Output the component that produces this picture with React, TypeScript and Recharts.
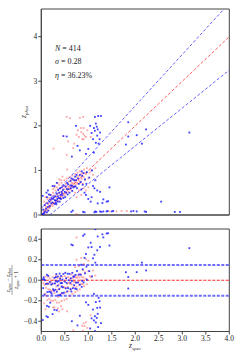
import React from "react";
import { ScatterChart, Scatter, XAxis, YAxis, ReferenceLine, ReferenceArea, Label } from "recharts";

// [z_spec, z_phot]
const bluePairs: [number, number][] = [
  [0.03, 0.43], [0.04, 0.12], [0.06, 0.05], [0.07, 0.22], [0.08, 0.08], [0.1, 0.14], [0.11, 0.5], [0.12, 0.06],
  [0.13, 0.26], [0.14, 0.18], [0.15, 0.1], [0.16, 0.46], [0.17, 0.3], [0.18, 0.2], [0.2, 0.34], [0.21, 0.26],
  [0.22, 0.38], [0.24, 0.28], [0.24, 0.65], [0.25, 0.36], [0.27, 0.4], [0.28, 0.25], [0.3, 0.42], [0.31, 0.32],
  [0.32, 0.24], [0.33, 0.48], [0.34, 0.36], [0.35, 0.3], [0.36, 0.56], [0.37, 0.38], [0.38, 0.5], [0.39, 0.3],
  [0.4, 0.6], [0.41, 0.45], [0.42, 0.36], [0.43, 0.52], [0.44, 0.62], [0.45, 0.44], [0.46, 0.56], [0.47, 0.38],
  [0.48, 0.66], [0.5, 0.52], [0.51, 0.4], [0.52, 0.64], [0.53, 0.5], [0.55, 0.72], [0.56, 0.46], [0.57, 0.69],
  [0.58, 0.58], [0.6, 0.5], [0.62, 0.76], [0.63, 0.6], [0.64, 0.82], [0.65, 0.66], [0.66, 0.54], [0.67, 0.8],
  [0.68, 0.62], [0.7, 0.78], [0.72, 0.86], [0.73, 0.64], [0.75, 0.9], [0.76, 0.6], [0.78, 0.82], [0.8, 0.7],
  [0.82, 0.9], [0.84, 0.74], [0.85, 0.57], [0.87, 0.88], [0.88, 0.68], [0.9, 0.94], [0.92, 0.5], [0.93, 0.8],
  [0.95, 0.45], [0.97, 0.96], [1.0, 0.36], [1.02, 0.84], [1.05, 0.3], [1.08, 1.0], [1.1, 0.65], [1.13, 0.6],
  [1.15, 0.78], [1.19, 0.55], [1.2, 0.26], [1.25, 0.52], [1.3, 0.27], [1.32, 0.35], [1.39, 0.3], [1.42, 0.31],
  [1.45, 0.62], [1.07, 0.4], [0.14, 0.55], [0.28, 0.65], [0.33, 0.72], [0.12, 0.4], [0.19, 0.45], [0.03, 0.02],
  [0.05, 0.02], [0.29, 0.33], [0.31, 0.27], [0.35, 0.42], [0.4, 0.38], [0.44, 0.48], [0.62, 0.66], [0.7, 0.64],
  [0.74, 0.78], [0.86, 0.98], [0.96, 0.7], [0.54, 0.58],
  [0.64, 0.07], [0.67, 0.1], [0.89, 0.07], [0.92, 0.06], [1.13, 0.06], [1.15, 0.08], [1.17, 0.07], [1.25, 0.08],
  [1.28, 0.07], [1.32, 0.08], [1.39, 0.08], [1.41, 0.09], [1.5, 0.08], [1.53, 0.09], [1.91, 0.08], [1.96, 0.09],
  [2.03, 0.08], [2.2, 0.08], [2.23, 0.07], [2.84, 0.07], [2.95, 0.07], [2.55, 0.3],
  [0.47, 1.77], [0.54, 1.76], [0.74, 2.0], [0.77, 1.55], [0.82, 1.45], [0.65, 1.31], [1.14, 2.2], [1.21, 2.22],
  [1.27, 2.22], [1.18, 1.98], [1.04, 2.0], [1.14, 1.89], [1.07, 1.84], [1.25, 1.85], [1.19, 1.78], [1.1, 1.7],
  [1.22, 1.6], [1.0, 1.48], [1.12, 1.95], [1.16, 2.05], [1.2, 1.92], [1.24, 1.7], [1.16, 1.62], [1.12, 1.4],
  [0.95, 1.37],
  [1.85, 2.08], [2.23, 1.92], [2.03, 1.79], [1.85, 1.76], [1.8, 1.58], [2.14, 1.6], [3.15, 1.85],
];

const redPairs: [number, number][] = [
  [0.05, 0.08], [0.07, 0.12], [0.08, 0.22], [0.09, 0.05], [0.1, 0.18], [0.11, 0.28], [0.12, 0.15], [0.13, 0.35],
  [0.14, 0.1], [0.15, 0.25], [0.16, 0.2], [0.17, 0.38], [0.18, 0.16], [0.19, 0.3], [0.2, 0.22], [0.21, 0.45],
  [0.22, 0.35], [0.23, 0.28], [0.24, 0.2], [0.25, 0.5], [0.26, 0.38], [0.27, 0.27], [0.28, 0.44], [0.29, 0.33],
  [0.3, 0.55], [0.31, 0.25], [0.32, 0.4], [0.33, 0.62], [0.34, 0.47], [0.35, 0.32], [0.36, 0.58], [0.37, 0.43],
  [0.38, 0.68], [0.39, 0.5], [0.4, 0.36], [0.41, 0.6], [0.42, 0.45], [0.43, 0.72], [0.44, 0.52], [0.45, 0.4],
  [0.46, 0.65], [0.47, 0.48], [0.48, 0.58], [0.49, 0.78], [0.5, 0.44], [0.51, 0.62], [0.52, 0.7], [0.53, 0.5],
  [0.54, 0.82], [0.55, 0.6], [0.56, 0.66], [0.57, 0.52], [0.58, 0.75], [0.59, 0.63], [0.6, 0.85], [0.61, 0.58],
  [0.62, 0.68], [0.63, 0.78], [0.64, 0.55], [0.65, 0.72], [0.66, 0.88], [0.67, 0.64], [0.68, 0.7], [0.69, 0.8],
  [0.7, 0.62], [0.71, 0.74], [0.72, 0.92], [0.73, 0.68], [0.74, 0.78], [0.75, 0.86], [0.76, 0.72], [0.77, 0.95],
  [0.78, 0.7], [0.79, 0.82], [0.8, 0.88], [0.81, 0.76], [0.82, 0.98], [0.83, 0.72], [0.84, 0.84], [0.85, 0.92],
  [0.86, 0.8], [0.88, 0.95], [0.89, 0.7], [0.9, 0.85], [0.91, 1.02], [0.93, 0.78], [0.95, 0.92], [0.97, 1.05],
  [1.0, 0.82], [1.03, 0.95], [1.06, 1.0], [1.1, 0.9], [1.15, 1.05], [0.06, 0.3], [0.09, 0.4],
  [0.28, 0.62], [0.35, 0.72], [0.42, 0.78], [0.25, 0.58], [0.45, 0.86], [0.38, 0.8], [0.55, 1.02],
  [0.75, 0.4], [0.85, 0.45], [0.9, 0.6], [0.95, 0.55], [0.72, 0.5], [1.0, 0.62], [0.8, 0.55], [0.75, 0.02],
  [1.45, 0.08], [1.71, 0.09], [1.82, 0.09], [1.6, 0.08],
  [0.54, 2.2], [0.61, 2.17], [0.82, 2.18], [0.89, 2.2], [0.78, 1.9], [0.85, 1.86], [0.89, 1.82], [0.92, 1.78],
  [0.8, 1.75], [0.87, 1.7], [0.95, 1.75], [0.75, 1.8], [0.84, 1.95], [0.9, 1.95], [0.26, 1.49], [0.57, 1.65],
  [0.54, 1.35], [0.9, 1.7], [0.7, 1.6], [0.98, 1.9], [1.05, 1.75], [0.68, 1.5],
];

const xTicks = [0, 0.5, 1, 1.5, 2, 2.5, 3, 3.5, 4];
const topYTicks = [0, 1, 2, 3, 4];
const resYTicks = [-0.4, -0.2, 0, 0.2, 0.4];
const outlierFrac = 0.15;

const topBlue = bluePairs.map(([s, p]) => ({ x: s, y: p }));
const topRed = redPairs.map(([s, p]) => ({ x: s, y: p }));
const resid = (pairs: [number, number][]) =>
  pairs.map(([s, p]) => ({ x: s, y: (s - p) / (s + 1) })).filter((d) => Math.abs(d.y) <= 0.5);
const resBlue = resid(bluePairs);
const resRed = resid(redPairs);

const FONT = "'Liberation Serif', serif";
const AX = "#444";

const dot = (color: string, op: number) => (props: any) =>
  <rect x={props.cx - 0.9} y={props.cy - 0.9} width={1.8} height={1.8} fill={color} fillOpacity={op} />;

const fmt = (v: number) => v.toFixed(1).replace("-", "\u2212");

export default function App() {
  return (
    <div style={{ position: "absolute", left: 0, top: 0, width: 240, height: 360, background: "#fff", fontFamily: FONT }}>
      <ScatterChart width={240} height={222} margin={{ top: 9, right: 10.7, bottom: 0, left: 0 }}>
        <XAxis type="number" dataKey="x" domain={[0, 4]} ticks={xTicks} tick={false} tickSize={3} height={7}
          axisLine={{ stroke: AX }} tickLine={{ stroke: AX }} allowDataOverflow />
        <YAxis type="number" dataKey="y" domain={[0, 4.62]} ticks={topYTicks} tickSize={3} width={41.3} tickMargin={1}
          axisLine={{ stroke: AX }} tickLine={{ stroke: AX }} allowDataOverflow
          tick={{ fontSize: 7.5, fill: "#222", fontFamily: FONT }}>
          <Label content={() => (
            <text x={26} y={112} transform="rotate(-90 26 112)" textAnchor="middle" fontFamily={FONT} fontSize={7.5} fill="#222">
              <tspan fontStyle="italic">z</tspan>
              <tspan fontStyle="italic" fontSize={5} dy={1.5}>phot</tspan>
            </text>
          )} />
        </YAxis>
        <ReferenceArea x1={0} x2={4} y1={0} y2={4.62} fill="none" stroke={AX} strokeWidth={1} />
        <Scatter data={topRed} shape={dot("#ff2020", 0.4)} isAnimationActive={false} />
        <Scatter data={topBlue} shape={dot("#1010ff", 0.8)} isAnimationActive={false} />
        <ReferenceLine segment={[{ x: 0, y: 0 }, { x: 4, y: 4 }]} stroke="#ff3030" strokeWidth={0.8} strokeDasharray="3 2" ifOverflow="visible" />
        <ReferenceLine segment={[{ x: 0, y: outlierFrac }, { x: (4.62 - outlierFrac) / (1 + outlierFrac), y: 4.62 }]}
          stroke="#3a3aff" strokeWidth={0.8} strokeDasharray="3 2" ifOverflow="visible" />
        <ReferenceLine segment={[{ x: outlierFrac / (1 - outlierFrac), y: 0 }, { x: 4, y: 4 * (1 - outlierFrac) - outlierFrac }]}
          stroke="#3a3aff" strokeWidth={0.8} strokeDasharray="3 2" ifOverflow="visible" />
      </ScatterChart>

      <div style={{ position: "absolute", left: 55, top: 42, fontSize: 8, lineHeight: "13.3px", color: "#222" }}>
        <div><i>N</i> = 414</div>
        <div><i>σ</i> = 0.28</div>
        <div><i>η</i> = 36.23%</div>
      </div>

      <div style={{ position: "absolute", left: 0, top: 222 }}>
        <ScatterChart width={240} height={138} margin={{ top: 7, right: 10.7, bottom: 0, left: 0 }}>
          <XAxis type="number" dataKey="x" domain={[0, 4]} ticks={xTicks} tickSize={3} height={28.5} tickMargin={1}
            tickFormatter={fmt} axisLine={{ stroke: AX }} tickLine={{ stroke: AX }} allowDataOverflow
            tick={{ fontSize: 7.5, fill: "#222", fontFamily: FONT }}>
            <Label content={() => (
              <text x={135} y={126} textAnchor="middle" fontFamily={FONT} fontSize={7.5} fill="#222">
                <tspan fontStyle="italic">z</tspan>
                <tspan fontStyle="italic" fontSize={5} dy={1.5}>spec</tspan>
              </text>
            )} />
          </XAxis>
          <YAxis type="number" dataKey="y" domain={[-0.5, 0.5]} ticks={resYTicks} tickSize={3} width={41.3} tickMargin={1}
            tickFormatter={fmt} axisLine={{ stroke: AX }} tickLine={{ stroke: AX }} allowDataOverflow
            tick={{ fontSize: 7.5, fill: "#222", fontFamily: FONT }}>
            <Label content={() => (
              <g transform="translate(12 58) rotate(-90)" fontFamily={FONT} fill="#222">
                <text x={0} y={-2} textAnchor="middle" fontSize={5.5}>
                  <tspan fontStyle="italic">z</tspan><tspan fontStyle="italic" fontSize={4} dy={1}>spec</tspan>
                  <tspan dy={-1}> − </tspan>
                  <tspan fontStyle="italic">z</tspan><tspan fontStyle="italic" fontSize={4} dy={1}>phot</tspan>
                </text>
                <line x1={-15} x2={15} y1={0} y2={0} stroke="#222" strokeWidth={0.4} />
                <text x={0} y={5.5} textAnchor="middle" fontSize={5.5}>
                  <tspan fontStyle="italic">z</tspan><tspan fontStyle="italic" fontSize={4} dy={1}>spec</tspan>
                  <tspan dy={-1}> + 1</tspan>
                </text>
              </g>
            )} />
          </YAxis>
          <ReferenceArea x1={0} x2={4} y1={-0.5} y2={0.5} fill="none" stroke={AX} strokeWidth={1} />
          <Scatter data={resRed} shape={dot("#ff2020", 0.4)} isAnimationActive={false} />
          <Scatter data={resBlue} shape={dot("#1010ff", 0.8)} isAnimationActive={false} />
          <ReferenceLine y={0} stroke="#ff2a2a" strokeWidth={1.2} strokeDasharray="3 1.5" />
          <ReferenceLine y={outlierFrac} stroke="#6f6fff" strokeWidth={2} strokeDasharray="3 1.5" />
          <ReferenceLine y={-outlierFrac} stroke="#6f6fff" strokeWidth={2} strokeDasharray="3 1.5" />
        </ScatterChart>
      </div>
    </div>
  );
}
